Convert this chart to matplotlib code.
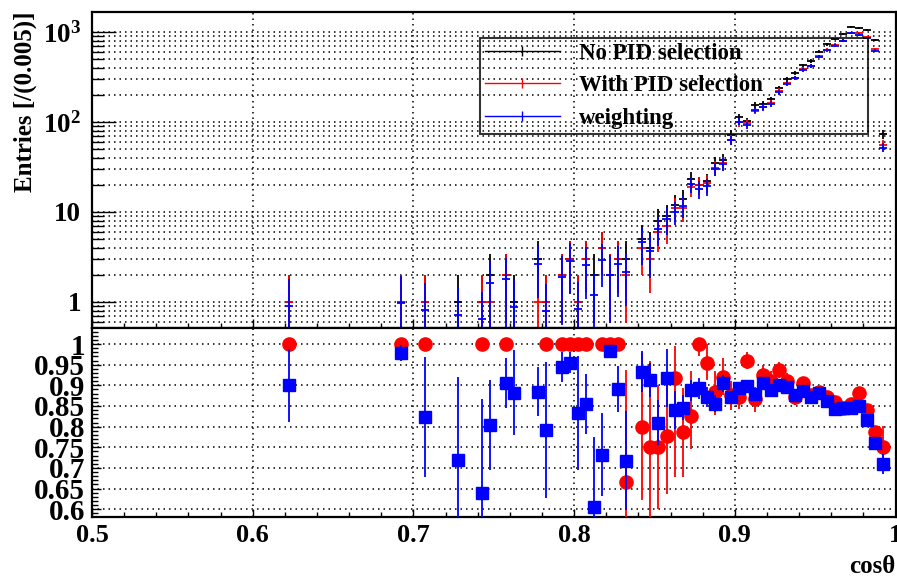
import numpy as np
import matplotlib
matplotlib.use("Agg")
import matplotlib.pyplot as plt
from matplotlib.lines import Line2D
from matplotlib.ticker import (MultipleLocator, FixedLocator, LogLocator,
                               NullFormatter, FuncFormatter)

plt.rcParams['font.family'] = ['Liberation Serif', 'DejaVu Serif']
plt.rcParams['font.weight'] = 'bold'
plt.rcParams['mathtext.fontset'] = 'custom'
plt.rcParams['mathtext.rm'] = 'Liberation Serif:bold'
plt.rcParams['mathtext.it'] = 'Liberation Serif:bold'
plt.rcParams['mathtext.bf'] = 'Liberation Serif:bold'

# cos(theta) bin centres (bin width 0.005), only non-empty bins
cos_bins = [0.6225, 0.6925, 0.7075, 0.7275, 0.7425, 0.7475, 0.7575, 0.7625,
            0.7775, 0.7825, 0.7925, 0.7975, 0.8025, 0.8075, 0.8125, 0.8175,
            0.8225, 0.8275, 0.8325, 0.8425, 0.8475, 0.8525, 0.8575, 0.8625,
            0.8675, 0.8725, 0.8775, 0.8825, 0.8875, 0.8925, 0.8975, 0.9025,
            0.9075, 0.9125, 0.9175, 0.9225, 0.9275, 0.9325, 0.9375, 0.9425,
            0.9475, 0.9525, 0.9575, 0.9625, 0.9675, 0.9725, 0.9775, 0.9825,
            0.9875, 0.9925]
n_nopid = [1, 1, 1, 1, 1, 2, 2, 1, 3, 1, 2, 3, 1, 3, 2, 4, 2, 3, 3, 5, 4, 8,
           9, 12, 14, 23, 20, 22, 35, 38, 72, 113, 102, 155, 160, 178, 237,
           298, 353, 425, 480, 605, 730, 836, 950, 1145, 1100, 1050, 815, 73]
n_pid = [1, 1, 1, 0, 1, 1, 2, 0, 1, 1, 2, 3, 1, 3, 0, 4, 2, 3, 2, 4, 3, 6,
         7, 11, 11, 19, 20, 21, 31, 35, 63, 99, 98, 134, 148, 162, 222, 271,
         308, 385, 420, 535, 636, 719, 804, 980, 970, 882, 641, 55]
n_weight = [0.90, 0.98, 0.82, 0.72, 0.64, 1.61, 1.81, 0.88, 2.65, 0.79, 1.89,
            2.87, 0.83, 2.56, 1.21, 2.93, 1.97, 2.67, 2.15, 4.67, 3.65, 6.5,
            8.3, 10.1, 11.8, 20.4, 17.9, 19.2, 30.0, 34.4, 63.0, 101, 91.6,
            136, 145, 158, 214, 267, 309, 377, 418, 534, 630, 704, 804, 969,
            935, 858, 620, 52]

# efficiency with PID selection (No PID as denominator)
eff_pid_x = [0.6225, 0.6925, 0.7075, 0.7425, 0.7575, 0.7825, 0.7925, 0.7975,
             0.8025, 0.8075, 0.8175, 0.8225, 0.8275, 0.8325, 0.8425, 0.8475,
             0.8525, 0.8575, 0.8625, 0.8675, 0.8725, 0.8775, 0.8825, 0.8875,
             0.8925, 0.8975, 0.9025, 0.9075, 0.9125, 0.9175, 0.9225, 0.9275,
             0.9325, 0.9375, 0.9425, 0.9475, 0.9525, 0.9575, 0.9625, 0.9675,
             0.9725, 0.9775, 0.9825, 0.9875, 0.9925]
eff_pid = [1, 1, 1, 1, 1, 1, 1, 1, 1, 1, 1, 1, 1, 0.667, 0.80, 0.75, 0.75,
           0.777, 0.917, 0.786, 0.825, 1.0, 0.955, 0.884, 0.921, 0.876, 0.872,
           0.96, 0.866, 0.925, 0.911, 0.937, 0.911, 0.872, 0.906, 0.876,
           0.884, 0.871, 0.86, 0.846, 0.856, 0.882, 0.84, 0.787, 0.751]
eff_pid_lo = [0, 0, 0, 0, 0, 0, 0, 0, 0, 0, 0, 0, 0, 0.27, 0.178, 0.21, 0.15,
              0.14, 0.24, 0.107, 0.08, 0.03, 0.042, 0.057, 0.045, 0.035, 0.03,
              0.02, 0.03, 0.025, 0.025, 0.02, 0.02, 0.02, 0.015, 0.015, 0.015,
              0.013, 0.013, 0.012, 0.011, 0.01, 0.012, 0.015, 0.05]
eff_pid_hi = [0, 0, 0, 0, 0, 0, 0, 0, 0, 0, 0, 0, 0, 0.27, 0.178, 0.21, 0.15,
              0.14, 0.078, 0.107, 0.11, 0.0, 0.045, 0.052, 0.045, 0.035, 0.03,
              0.02, 0.03, 0.025, 0.025, 0.02, 0.02, 0.02, 0.015, 0.015, 0.015,
              0.013, 0.013, 0.012, 0.011, 0.01, 0.012, 0.015, 0.05]

# efficiency from weighting
eff_w_x = cos_bins
eff_w = [0.90, 0.979, 0.824, 0.72, 0.638, 0.804, 0.906, 0.882, 0.885, 0.792,
         0.945, 0.955, 0.834, 0.855, 0.605, 0.732, 0.984, 0.891, 0.717, 0.933,
         0.913, 0.81, 0.918, 0.84, 0.846, 0.888, 0.893, 0.872, 0.856, 0.905,
         0.871, 0.893, 0.898, 0.88, 0.905, 0.888, 0.902, 0.897, 0.876, 0.887,
         0.871, 0.882, 0.863, 0.842, 0.846, 0.846, 0.85, 0.817, 0.761, 0.709]
eff_w_err = [0.088, 0.02, 0.145, 0.2, 0.23, 0.11, 0.06, 0.103, 0.06, 0.165,
             0.037, 0.025, 0.138, 0.073, 0.17, 0.10, 0.015, 0.055, 0.12, 0.05,
             0.04, 0.055, 0.07, 0.046, 0.03, 0.025, 0.025, 0.025, 0.02, 0.02,
             0.015, 0.012, 0.012, 0.01, 0.01, 0.01, 0.008, 0.008, 0.008, 0.007,
             0.007, 0.006, 0.006, 0.006, 0.006, 0.005, 0.005, 0.006, 0.008,
             0.024]

half_bin = 0.0025

fig = plt.figure(figsize=(8.97, 5.80), dpi=100)
W, H = 897.0, 580.0
x0, x1 = 92.0, 895.5
ax1 = fig.add_axes([x0 / W, 1 - 328 / H, (x1 - x0) / W, 316 / H])
ax2 = fig.add_axes([x0 / W, 1 - 517 / H, (x1 - x0) / W, 189 / H])

dotted = (0, (1, 2.6))

# --- top: entries ---
ax1.set_yscale('log')
x = np.array(cos_bins)
black = np.array(n_nopid, float)
red = np.array(n_pid, float)
blue = np.array(n_weight, float)
sets = [(black, np.sqrt(black), 'black', 'No PID selection'),
        (red, np.sqrt(red), 'red', 'With PID selection'),
        (blue, blue / np.sqrt(black), 'blue', 'weighting')]
handles = []
for vals, errs, col, lab in sets:
    m = vals > 0
    ax1.errorbar(x[m], vals[m], xerr=half_bin, yerr=errs[m], fmt='none',
                 ecolor=col, elinewidth=1.3, capsize=0)
    handles.append(Line2D([], [], color=col, lw=1.0, marker='|',
                          markersize=7, markeredgewidth=1.0))

ax1.set_xlim(0.5, 1.0)
ax1.set_ylim(0.514, 1668)
ax1.yaxis.set_major_locator(FixedLocator([1, 10, 100, 1000]))
ax1.yaxis.set_major_formatter(FuncFormatter(
    lambda v, p: {1: '1', 10: '10', 100: '$10^{2}$', 1000: '$10^{3}$'}.get(int(round(v)), '')))
ax1.yaxis.set_minor_locator(LogLocator(base=10, subs=np.arange(2, 10)))
ax1.yaxis.set_minor_formatter(NullFormatter())
ax1.xaxis.set_major_locator(MultipleLocator(0.1))
ax1.xaxis.set_minor_locator(MultipleLocator(0.02))
ax1.tick_params(axis='x', which='major', direction='in', length=6.5, width=1,
                top=False, labelbottom=False)
ax1.tick_params(axis='x', which='minor', direction='in', length=3.5, width=1,
                top=False)
ax1.tick_params(axis='y', which='major', direction='in', length=17, width=1,
                right=False, labelsize=19.5, pad=8)
ax1.tick_params(axis='y', which='minor', direction='in', length=8.5, width=1,
                right=False)
ax1.grid(which='major', axis='x', color='black', ls=dotted, lw=1.1)
ax1.grid(which='both', axis='y', color='black', ls=dotted, lw=1.1)
ax1.set_axisbelow(True)
ax1.set_ylabel('Entries [/(0.005)]', loc='top', fontsize=18,
               fontweight='bold', labelpad=4)

leg = ax1.legend(handles, [s[3] for s in sets], loc='upper left',
                 bbox_to_anchor=(0.483, 0.617, 0.483, 0.301), mode='expand',
                 fontsize=16.5, handlelength=3.3, handletextpad=0.8,
                 labelspacing=0.52, borderpad=0.2, borderaxespad=0,
                 fancybox=False, frameon=True)
leg.get_frame().set_edgecolor('black')
leg.get_frame().set_facecolor('none')
leg.get_frame().set_linewidth(1.5)

# --- bottom: efficiencies ---
ax2.errorbar(eff_pid_x, eff_pid, yerr=[eff_pid_lo, eff_pid_hi], fmt='o',
             color='red', ms=9.5, elinewidth=1.3, capsize=0, zorder=3)
ax2.errorbar(eff_w_x, eff_w, yerr=eff_w_err, fmt='s', color='blue', ms=8.5,
             elinewidth=1.3, capsize=0, zorder=4)
ax2.set_xlim(0.5, 1.0)
ax2.set_ylim(0.581, 1.039)
ax2.yaxis.set_major_locator(FixedLocator(np.arange(0.6, 1.001, 0.05)))
ax2.yaxis.set_major_formatter(FuncFormatter(lambda v, p: f'{v:.2f}'.rstrip('0').rstrip('.')))
ax2.yaxis.set_minor_locator(MultipleLocator(0.01))
ax2.xaxis.set_major_locator(MultipleLocator(0.1))
ax2.xaxis.set_major_formatter(FuncFormatter(lambda v, p: f'{v:.1f}'.rstrip('0').rstrip('.')))
ax2.xaxis.set_minor_locator(MultipleLocator(0.02))
ax2.tick_params(axis='x', which='major', direction='in', length=6, width=1,
                top=False, labelsize=19, pad=5)
ax2.tick_params(axis='x', which='minor', direction='in', length=3.5, width=1,
                top=False)
ax2.tick_params(axis='y', which='major', direction='in', length=6.5, width=1,
                right=False, labelsize=21, pad=5)
ax2.tick_params(axis='y', which='minor', direction='in', length=4.5, width=1,
                right=False)
ax2.grid(which='major', color='black', ls=dotted, lw=1.1)
ax2.set_axisbelow(True)
ax2.set_xlabel('cosθ', loc='right', fontsize=18, fontweight='bold',
               labelpad=6)

for ax in (ax1, ax2):
    for sp in ax.spines.values():
        sp.set_linewidth(1.6)

fig.savefig('out.png', dpi=100)
